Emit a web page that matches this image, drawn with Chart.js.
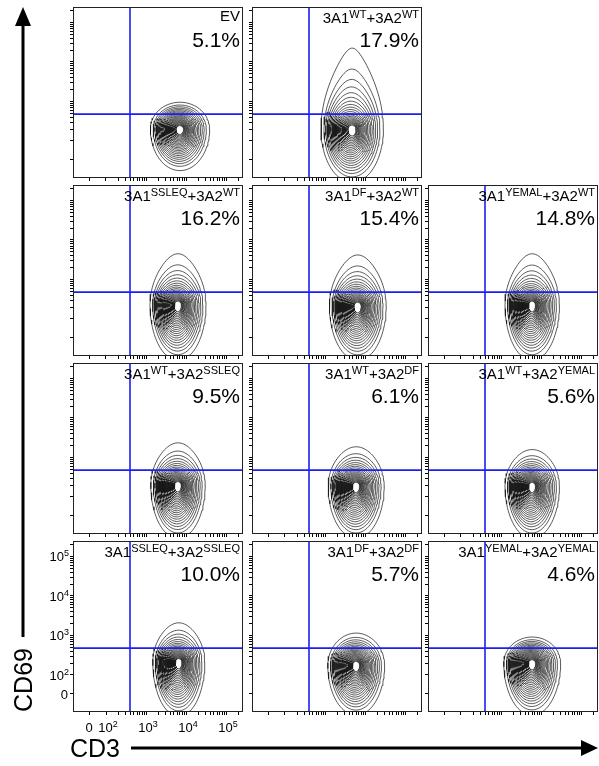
<!DOCTYPE html>
<html>
<head>
<meta charset="utf-8">
<script src="https://cdn.jsdelivr.net/npm/chart.js@4.4.1/dist/chart.umd.min.js"></script>
<style>
    body { margin: 0; background: #fff; }
    #page { position: relative; width: 599px; height: 766px; overflow: hidden; font-family: 'Liberation Sans', Arial, sans-serif; color: #000; }
    canvas { position: absolute; z-index: 1; }
    .title, .pct { position: absolute; text-align: right; white-space: nowrap; z-index: 2; }
    .title { font-size: 15px; line-height: 15px; }
    .title sup { font-size: 11px; vertical-align: baseline; position: relative; top: -5px; }
    .pct { font-size: 21px; line-height: 21px; }
    .axis-label { position: absolute; font-size: 25px; z-index: 2; }
    svg { position: absolute; left: 0; top: 0; z-index: 0; }
</style>
</head>
<body>
<div id="page">
    <svg width="599" height="766">
        <line x1="23" y1="24" x2="23" y2="637" stroke="#000" stroke-width="3"/>
        <polygon points="23,7 15,26 31,26" fill="#000"/>
        <line x1="131" y1="748" x2="584" y2="748" stroke="#000" stroke-width="3"/>
        <polygon points="598,748 581,740 581,756" fill="#000"/>
    </svg>
    <div class="axis-label" style="left:-27px; top:665px; width:100px; height:30px; line-height:30px; text-align:center; transform:rotate(-90deg);">CD69</div>
    <div class="axis-label" style="left:70px; top:736px; line-height:25px;">CD3</div>
</div>

<script>
// panel labels (superscripts of 3A1 / 3A2), empty = EV control
const mutA1 = ['', 'WT', 'SSLEQ', 'DF', 'YEMAL', 'WT', 'WT', 'WT', 'SSLEQ', 'DF', 'YEMAL'];
const mutA2 = ['', 'WT', 'WT', 'WT', 'WT', 'SSLEQ', 'DF', 'YEMAL', 'SSLEQ', 'DF', 'YEMAL'];
const percents = ['5.1', '17.9', '16.2', '15.4', '14.8', '9.5', '6.1', '5.6', '10.0', '5.7', '4.6'];

// population shape per panel, in log-decade units (10^k -> k)
const coreX   = [3.85, 3.68, 3.80, 3.82, 3.78, 3.80, 3.78, 3.78, 3.82, 3.78, 3.78];
const coreY   = [2.30, 2.30, 2.36, 2.33, 2.36, 2.30, 2.28, 2.28, 2.33, 2.25, 2.30];
const spreadX = [0.74, 0.78, 0.70, 0.71, 0.68, 0.68, 0.70, 0.68, 0.65, 0.71, 0.71];
const topY    = [2.98, 4.35, 3.65, 3.62, 3.65, 3.37, 3.27, 3.20, 3.32, 3.06, 2.96];
const bottomY = [1.25, 0.95, 0.95, 0.95, 0.95, 0.95, 0.95, 0.95, 0.95, 0.98, 0.98];

// quadrant gate
const gateX = 2.6;
const gateY = 2.68;

// axis ticks
const majorTicks = [2, 3, 4, 5];
const zeroX = 1.575;
const zeroY = 1.52;

const X_MIN = 1.175, X_MAX = 5.425;
const Y_MIN = 1.063, Y_MAX = 5.39;
const LEVELS = 22;
const STEPS = 90;

const colLeft = [73, 252, 428];
const rowTop = [7, 185, 363, 541];
const PW = 170, PH = 171;
const cells = [[0,0],[0,1],[1,0],[1,1],[1,2],[2,0],[2,1],[2,2],[3,0],[3,1],[3,2]];

function minorTicks(zero) {
    const vals = [zero];
    for (let k = 2; k <= 4; k++) {
        for (let m = 1; m <= 9; m++) vals.push(k + Math.log10(m));
    }
    vals.push(5, 5 + Math.log10(2));
    return vals;
}

// nested contour rings around the population core
function contourSets(i) {
    const sets = [];
    const rx = spreadX[i];
    const up = topY[i] - coreY[i];
    const up0 = Math.min(up, rx);
    const down = coreY[i] - bottomY[i];
    for (let k = 0; k < LEVELS; k++) {
        const f = k / LEVELS;
        const s = 1 - 0.9 * Math.pow(f, 0.7);
        const upK = up0 * s + (up - up0) * Math.pow(s, 4);
        const downK = down * s;
        const ratio = upK / (rx * s);
        const taper = Math.min(0.4, Math.max(0, (ratio - 1) * 0.25));
        const shift = -0.06 * rx * Math.sin(Math.PI * f);
        const pts = [];
        for (let j = 0; j <= STEPS; j++) {
            const t = j / STEPS * Math.PI * 2;
            const c = Math.cos(t), sn = Math.sin(t);
            let x, y;
            if (sn >= 0) {
                x = coreX[i] + shift + rx * s * c * (1 - taper * sn * sn);
                y = coreY[i] + upK * sn;
            } else {
                x = coreX[i] + shift + rx * s * c;
                y = coreY[i] + downK * sn;
            }
            pts.push({ x: x, y: Math.max(y, Y_MIN + 0.01) });
        }
        sets.push({
            data: pts,
            showLine: true,
            borderColor: '#111',
            borderWidth: 0.7,
            pointRadius: 0
        });
    }
    return sets;
}

const framePlugin = {
    id: 'frame',
    afterDatasetsDraw(chart) {
        const a = chart.chartArea;
        const ctx = chart.ctx;
        ctx.save();
        ctx.strokeStyle = '#222';
        ctx.lineWidth = 1;
        ctx.strokeRect(a.left + 0.5, a.top + 0.5, a.right - a.left - 1, a.bottom - a.top - 1);
        ctx.restore();
    }
};

function drawPow(ctx, x, y, exp, align) {
    ctx.font = '13px "Liberation Sans", Arial, sans-serif';
    const w1 = ctx.measureText('10').width;
    ctx.font = '9px "Liberation Sans", Arial, sans-serif';
    const w2 = exp ? ctx.measureText(exp).width : 0;
    const total = w1 + w2;
    let x0 = align === 'right' ? x - total : x - total / 2;
    ctx.font = '13px "Liberation Sans", Arial, sans-serif';
    ctx.fillText('10', x0, y);
    ctx.font = '9px "Liberation Sans", Arial, sans-serif';
    ctx.fillText(exp, x0 + w1, y - 5);
}

const tickLabelPlugin = {
    id: 'tickLabels',
    afterDraw(chart) {
        if (!chart.options.plugins.tickLabels.show) return;
        const ctx = chart.ctx;
        const xs = chart.scales.x, ys = chart.scales.y;
        const a = chart.chartArea;
        ctx.save();
        ctx.fillStyle = '#000';
        ctx.textBaseline = 'alphabetic';
        ctx.textAlign = 'left';
        // y labels
        ctx.font = '13px "Liberation Sans", Arial, sans-serif';
        const zy = ys.getPixelForValue(zeroY);
        const zw = ctx.measureText('0').width;
        ctx.fillText('0', a.left - 5 - zw, zy + 5);
        majorTicks.forEach(k => {
            drawPow(ctx, a.left - 4, ys.getPixelForValue(k) + 5, String(k), 'right');
        });
        // x labels
        ctx.font = '13px "Liberation Sans", Arial, sans-serif';
        const zx = xs.getPixelForValue(zeroX);
        ctx.fillText('0', zx - zw / 2, a.bottom + 20);
        majorTicks.forEach(k => {
            drawPow(ctx, xs.getPixelForValue(k) + 2, a.bottom + 20, String(k), 'center');
        });
        ctx.restore();
    }
};

function buildPanel(i) {
    const page = document.getElementById('page');
    const r = cells[i][0], c = cells[i][1];
    const left = colLeft[c], top = rowTop[r];
    const labeled = (r === 3 && c === 0);
    const mL = labeled ? left : 10;
    const mB = labeled ? 32 : 10;
    const mT = 10, mR = 10;

    const canvas = document.createElement('canvas');
    const w = PW + mL + mR, h = PH + mT + mB;
    canvas.width = w; canvas.height = h;
    canvas.style.left = (left - mL) + 'px';
    canvas.style.top = (top - mT) + 'px';
    canvas.style.width = w + 'px';
    canvas.style.height = h + 'px';
    page.appendChild(canvas);

    const gateSets = [
        { data: [{ x: gateX, y: Y_MIN }, { x: gateX, y: Y_MAX }], showLine: true, borderColor: '#1e1ef0', borderWidth: 1.6, pointRadius: 0 },
        { data: [{ x: X_MIN, y: gateY }, { x: X_MAX, y: gateY }], showLine: true, borderColor: '#1e1ef0', borderWidth: 1.6, pointRadius: 0 }
    ];

    const axisGrid = { drawOnChartArea: false, drawTicks: true, tickLength: 3, color: '#000', lineWidth: 1 };

    new Chart(canvas.getContext('2d'), {
        type: 'scatter',
        data: { datasets: gateSets.concat(contourSets(i)) },
        options: {
            animation: false,
            responsive: false,
            devicePixelRatio: 1,
            layout: { padding: { top: mT, right: mR, left: 0, bottom: 0 } },
            plugins: { legend: { display: false }, tooltip: { enabled: false }, tickLabels: { show: labeled } },
            scales: {
                x: {
                    type: 'linear', min: X_MIN, max: X_MAX,
                    afterBuildTicks: s => { s.ticks = minorTicks(zeroX).map(v => ({ value: v })); },
                    afterFit: s => { s.height = mB; },
                    ticks: { display: false },
                    grid: axisGrid,
                    border: { display: false }
                },
                y: {
                    type: 'linear', min: Y_MIN, max: Y_MAX,
                    afterBuildTicks: s => { s.ticks = minorTicks(zeroY).map(v => ({ value: v })); },
                    afterFit: s => { s.width = mL; },
                    ticks: { display: false },
                    grid: axisGrid,
                    border: { display: false }
                }
            }
        },
        plugins: [framePlugin, tickLabelPlugin]
    });

    // titles
    const right = left + PW - 3;
    const title = document.createElement('div');
    title.className = 'title';
    if (mutA1[i] === '') {
        title.textContent = 'EV';
        title.style.top = (top + 1) + 'px';
    } else {
        title.innerHTML = '3A1<sup>' + mutA1[i] + '</sup>+3A2<sup>' + mutA2[i] + '</sup>';
        title.style.top = (top + 3) + 'px';
    }
    title.style.right = (599 - right) + 'px';
    page.appendChild(title);

    const pct = document.createElement('div');
    pct.className = 'pct';
    pct.textContent = percents[i] + '%';
    pct.style.top = (top + 22) + 'px';
    pct.style.right = (599 - right) + 'px';
    page.appendChild(pct);
}

document.addEventListener('DOMContentLoaded', function() {
    for (let i = 0; i < percents.length; i++) buildPanel(i);
});
</script>
</body>
</html>
